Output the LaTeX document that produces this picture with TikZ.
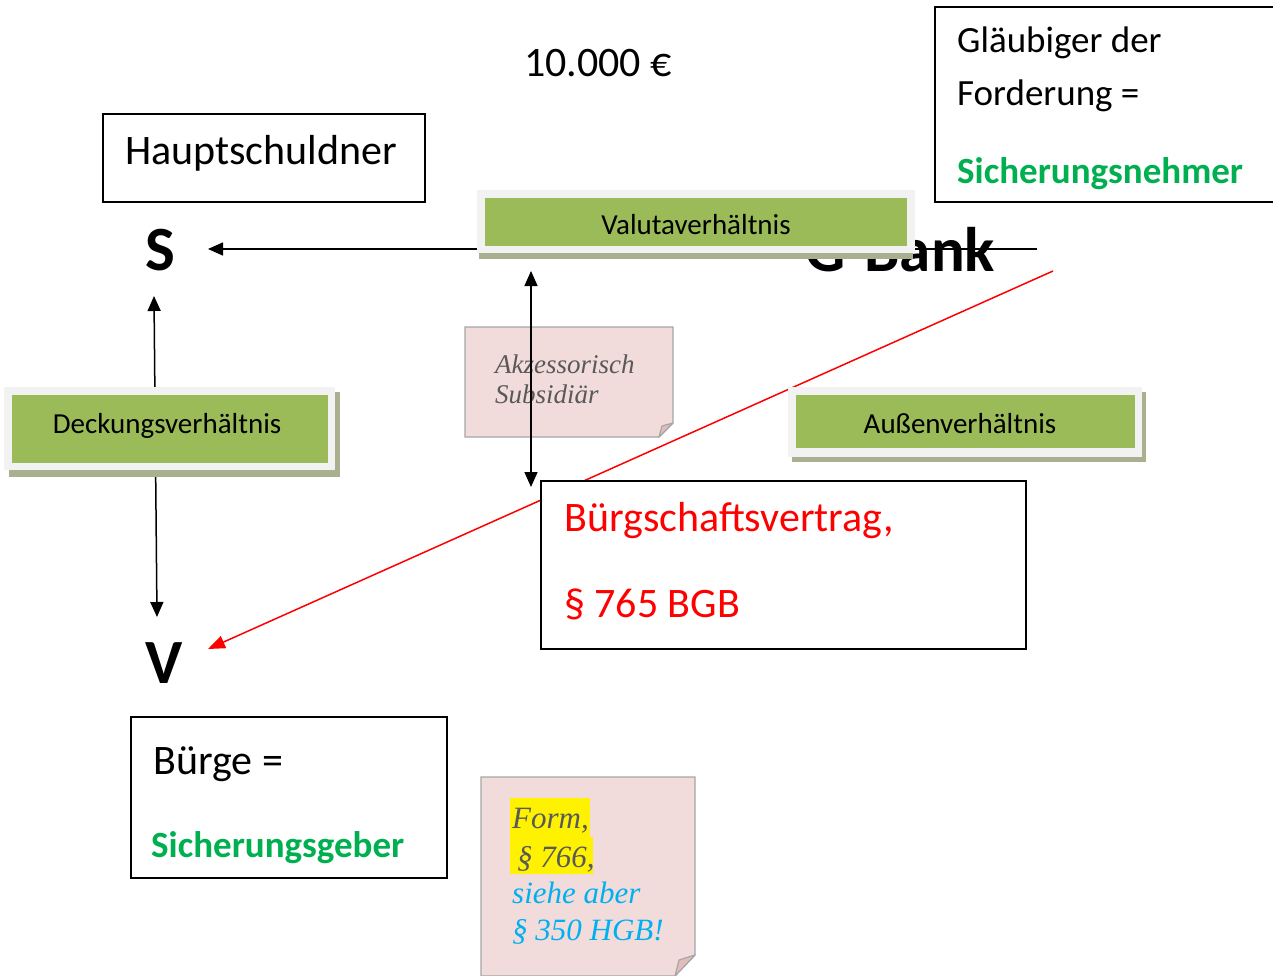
\documentclass[tikz,border=0pt]{standalone}
\usepackage{fontspec}
\setmainfont{Carlito}
\newfontfamily\notefont{Liberation Serif}
\usetikzlibrary{arrows.meta}
\definecolor{boxgreen}{HTML}{9BBB59}
\definecolor{rimgray}{HTML}{F2F2F2}
\definecolor{shadowc}{HTML}{A9B08F}
\definecolor{sgreen}{HTML}{00B050}
\definecolor{notefill}{HTML}{F2DCDB}
\definecolor{noteedge}{HTML}{A6A6A6}
\definecolor{foldfill}{HTML}{E2BDBC}
\definecolor{notegray}{HTML}{595959}
\definecolor{noteblue}{HTML}{00B0F0}
\begin{document}
\begin{tikzpicture}[x=1pt,y=-1pt,
  plainbox/.style={draw=black, line width=1.6pt, fill=white, inner sep=0pt},
  txt/.style={inner sep=0pt, anchor=base west},
  big/.style={txt, font=\fontsize{42}{50}\selectfont},
  mid/.style={txt, font=\fontsize{37}{44}\selectfont},
  lab/.style={inner sep=0pt, anchor=base, font=\fontsize{29}{34}\selectfont},
  letter/.style={txt, font=\bfseries\fontsize{63}{70}\selectfont},
  notetxt/.style={txt, font=\notefont\itshape\fontsize{27}{32}\selectfont, text=notegray},
  formtxt/.style={txt, font=\notefont\itshape\fontsize{31}{37}\selectfont},
  conn/.style={line width=1.5pt, -{Triangle[length=15pt,width=13pt]}},
  dconn/.style={line width=1.5pt, {Triangle[length=15pt,width=13pt]}-{Triangle[length=15pt,width=13pt]}},
  redconn/.style={draw=red, line width=1.5pt, -{Triangle[length=17pt,width=13pt]}},
  rim/.style={fill=rimgray},
  shade/.style={fill=shadowc},
  greenbox/.style={fill=boxgreen, inner sep=0pt},
  notebox/.style={fill=notefill, draw=noteedge, line width=1.2pt},
  fold/.style={fill=foldfill, draw=noteedge, line width=1.2pt, line join=round}
]
\useasboundingbox (0,0) rectangle (1273,976);

% amount
\node[inner sep=0pt, anchor=base, font=\fontsize{42}{50}\selectfont] (amount) at (598,77) {10.000 €};

% Hauptschuldner
\node[plainbox, minimum width=322, minimum height=88] (hsbox) at (264,158) {};
\node[big] (hstext) at (125,165) {Hauptschuldner};

% Glaeubiger
\node[plainbox, minimum width=350, minimum height=195] (glbox) at (1110,104.5) {};
\node[mid] (gl1) at (957,53) {Gläubiger der};
\node[mid] (gl2) at (957,106) {Forderung =};
\node[mid, font=\bfseries\fontsize{37}{44}\selectfont, text=sgreen] (gl3) at (957,184) {Sicherungsnehmer};

% persons
\node[letter] (S) at (145,270) {S};
\node[letter] (V) at (145,683) {V};
\node[letter] (G) at (805,271) {G-Bank};

% Akzessorisch note
\path[notebox] (465,327) -- (673,327) -- (673,423) -- (659,437) -- (465,437) -- cycle;
\path[fold] (673,423) -- (659,437) -- (662,426) -- cycle;
\node[notetxt] (ak1) at (495,373) {Akzessorisch};
\node[notetxt] (ak2) at (495,403) {Subsidiär};

% Form note
\path[notebox] (481,777) -- (695,777) -- (695,955) -- (675,976) -- (481,976) -- cycle;
\path[fold] (695,955) -- (675,976) -- (679,960) -- cycle;
\fill[yellow] (510,798) rectangle (590,837);
\fill[yellow] (510,837) rectangle (593,874);
\node[formtxt, text=notegray] (fo1) at (512,828) {Form,};
\node[formtxt, text=notegray] (fo2) at (517,867) {§ 766,};
\node[formtxt, text=noteblue] (fo3) at (512,903) {siehe aber};
\node[formtxt, text=noteblue] (fo4) at (512,940) {§ 350 HGB!};

% connector end points
\coordinate (valstart) at (1037,249);
\coordinate (stip) at (208,249);
\coordinate (stop) at (154,296);
\coordinate (vtop) at (157,617);
\coordinate (akup) at (531,271);
\coordinate (akdown) at (531,487);
\coordinate (redstart) at (1053,271);
\coordinate (redtip) at (208,649);

% connectors
\draw[conn] (valstart) -- (stip);
\draw[dconn] (stop) -- (vtop);
\draw[dconn] (akup) -- (akdown);
\draw[redconn] (redstart) -- (redtip);

% Buergschaftsvertrag
\node[plainbox, minimum width=485, minimum height=168] (bvbox) at (783.5,565) {};
\node[big, text=red] (bv1) at (564,531) {Bürgschaftsvertrag,};
\node[big, text=red] (bv2) at (564,617) {§ 765 BGB};

% Buerge
\node[plainbox, minimum width=316, minimum height=161] (bgbox) at (289,797.5) {};
\node[big] (bg1) at (153,774) {Bürge =};
\node[mid, font=\bfseries\fontsize{37}{44}\selectfont, text=sgreen] (bg2) at (151,857) {Sicherungsgeber};

% Valutaverhaeltnis
\path[shade] (479,196) rectangle (913,259);
\path[rim] (477,190) rectangle (915,253);
\node[greenbox, minimum width=422, minimum height=48] (valbox) at (696,222) {};
\node[lab] (valtext) at (696,235) {Valutaverhältnis};

% Deckungsverhaeltnis
\path[shade] (9,392) rectangle (340,477);
\path[rim] (4,387) rectangle (335,470);
\node[greenbox, minimum width=316, minimum height=68] (deckbox) at (170,429) {};
\node[lab] (decktext) at (167,433) {Deckungsverhältnis};

% Aussenverhaeltnis
\path[shade] (792,392) rectangle (1146,462);
\path[rim] (788,387) rectangle (1142,457);
\node[greenbox, minimum width=339, minimum height=53] (aubox) at (965.5,421.5) {};
\node[lab] (autext) at (960,433) {Außenverhältnis};
\end{tikzpicture}
\end{document}
